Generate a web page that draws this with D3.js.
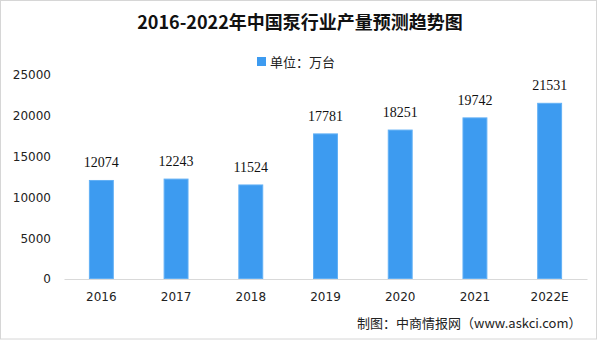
<!DOCTYPE html>
<html>
<head>
<meta charset="utf-8">
<script src="https://d3js.org/d3.v7.min.js"></script>
<style>
	body, html {
		margin: 0;
		padding: 0;
		background: #fff;
	}
	.title {
		font-family: "Noto Sans CJK SC", sans-serif;
		font-weight: bold;
		font-size: 18px;
		fill: #111;
	}
	.legend-label, .footer {
		font-family: "Noto Sans CJK SC", sans-serif;
		font-size: 13px;
		fill: #222;
	}
	.bar {
		fill: #3d9bf0;
		stroke: #62b0f5;
		stroke-width: 1;
	}
	.bar-label {
		font-family: "Liberation Serif", serif;
		font-size: 14px;
		text-anchor: middle;
		fill: #111;
	}
	.axis text {
		font-family: "DejaVu Sans", sans-serif;
		font-size: 11px;
		fill: #222;
	}
</style>
</head>
<body>
<script>
	var years = ["2016", "2017", "2018", "2019", "2020", "2021", "2022E"];
	var output = [12074, 12243, 11524, 17781, 18251, 19742, 21531];
	var yTicks = [0, 5000, 10000, 15000, 20000, 25000];

	var w = 600, h = 341;
	var margin = {top: 75, right: 13, bottom: 62, left: 64};

	var svg = d3.select("body").append("svg")
		.attr("width", w)
		.attr("height", h);

	// outer frame
	svg.append("rect")
		.attr("x", 0.5).attr("y", 0.5)
		.attr("width", w - 4).attr("height", h - 2.5)
		.attr("fill", "#fff")
		.attr("stroke", "#d6d6d6");

	var x = d3.scaleBand()
		.domain(years)
		.range([margin.left, w - margin.right])
		.paddingInner(0.68)
		.paddingOuter(0.34);

	var y = d3.scaleLinear()
		.domain([0, 25000])
		.range([h - margin.bottom, margin.top]);

	svg.append("text")
		.attr("class", "title")
		.attr("x", 300).attr("y", 29)
		.attr("text-anchor", "middle")
		.text("2016-2022年中国泵行业产量预测趋势图");

	// legend
	svg.append("rect")
		.attr("x", 257).attr("y", 57)
		.attr("width", 9).attr("height", 9)
		.attr("fill", "#3d9bf0");
	svg.append("text")
		.attr("class", "legend-label")
		.attr("x", 270).attr("y", 66.5)
		.text("单位：万台");

	// y axis, labels only
	var yAxis = svg.append("g")
		.attr("class", "axis")
		.attr("transform", "translate(" + 54 + ",0)")
		.call(d3.axisLeft(y).tickValues(yTicks).tickSize(0).tickFormat(d3.format("d")));
	yAxis.select(".domain").remove();
	yAxis.selectAll("text").style("font-size", "12px");

	// x axis
	var xAxis = svg.append("g")
		.attr("class", "axis")
		.attr("transform", "translate(0," + y(0) + ")")
		.call(d3.axisBottom(x).tickSize(0).tickPadding(13).tickSizeOuter(0));
	xAxis.select(".domain").attr("stroke", "#d9d9d9");
	xAxis.selectAll("text").style("font-size", "12px");

	svg.selectAll(".bar")
		.data(output)
		.enter().append("rect")
		.attr("class", "bar")
		.attr("x", function(d, i) { return x(years[i]); })
		.attr("y", function(d) { return y(d); })
		.attr("width", x.bandwidth())
		.attr("height", function(d) { return y(0) - y(d) - 0.5; });

	svg.selectAll(".bar-label")
		.data(output)
		.enter().append("text")
		.attr("class", "bar-label")
		.attr("x", function(d, i) { return x(years[i]) + x.bandwidth() / 2; })
		.attr("y", function(d) { return y(d) - 13; })
		.text(function(d) { return d; });

	svg.append("text")
		.attr("class", "footer")
		.attr("x", 357).attr("y", 328)
		.text("制图：中商情报网（www.askci.com）");
</script>
</body>
</html>
